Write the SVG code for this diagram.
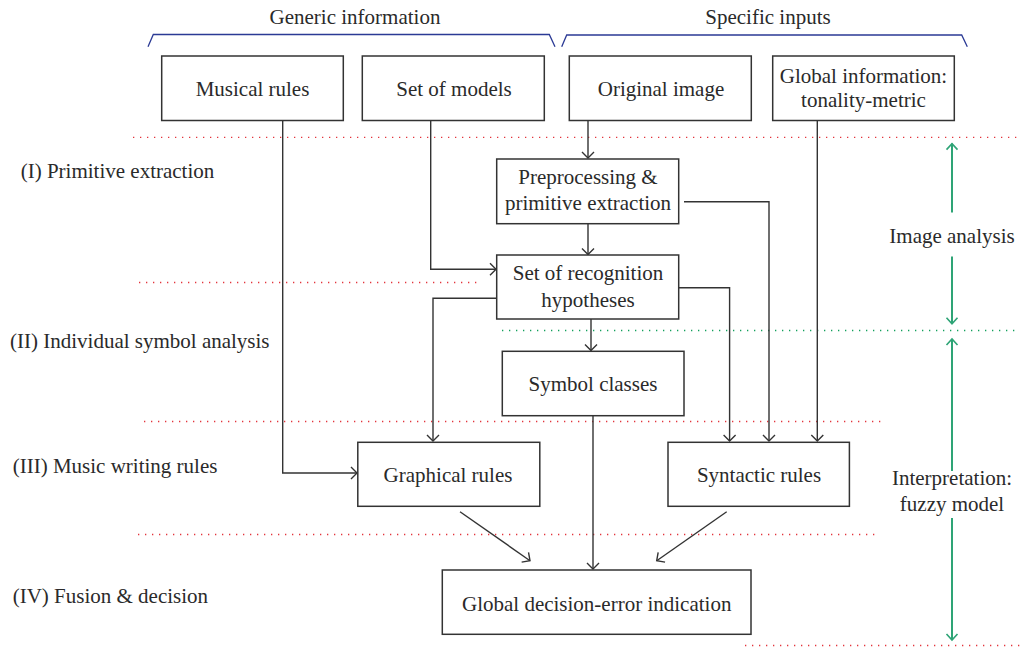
<svg xmlns="http://www.w3.org/2000/svg" width="1020" height="647" viewBox="0 0 1020 647">
<style>
text{font-family:"Liberation Serif","Times New Roman",serif;font-size:21px;fill:#2a2a2a}
.c{text-anchor:middle}
.box{fill:#fff;stroke:#333;stroke-width:1.5}
.ln{fill:none;stroke:#333;stroke-width:1.4}
.ar{marker-end:url(#arr)}
.red{fill:none;stroke:#e3343c;stroke-width:1.3;stroke-dasharray:1.3 5.7}
.grn{fill:none;stroke:#12a05c;stroke-width:1.3;stroke-dasharray:1.3 5.7}
.gar{fill:none;stroke:#2ea476;stroke-width:2}
.brace{fill:none;stroke:#2b3a95;stroke-width:1.3}
</style>
<defs>
<marker id="arr" markerUnits="userSpaceOnUse" markerWidth="14" markerHeight="14" viewBox="0 0 14 14" refX="7" refY="7" orient="auto"><path d="M1,1 L7,7 L1,13" fill="none" stroke="#333" stroke-width="1.4"/></marker>
<marker id="garr" markerUnits="userSpaceOnUse" markerWidth="14" markerHeight="14" viewBox="0 0 14 14" refX="7" refY="7" orient="auto-start-reverse"><path d="M1,1.5 L7,7 L1,12.5" fill="none" stroke="#2ea476" stroke-width="1.6"/></marker>
</defs>

<g id="guides">
<path class="brace" d="M148,46.7 L153.3,34.5 L549.3,34.5 L555,46.7"/>
<path class="brace" d="M561.7,46.7 L566.7,35 L961.7,35 L967.3,46.7"/>
<text class="c" x="355" y="24">Generic information</text>
<text class="c" x="768" y="24">Specific inputs</text>
<line class="red" x1="133" y1="137.3" x2="1020" y2="137.3"/>
<line class="red" x1="139" y1="282.5" x2="482" y2="282.5"/>
<line class="grn" x1="502" y1="330.5" x2="1020" y2="330.5"/>
<line class="red" x1="144" y1="421.5" x2="881" y2="421.5"/>
<line class="red" x1="138" y1="534.5" x2="876" y2="534.5"/>
<line class="red" x1="745" y1="645.5" x2="1020" y2="645.5"/>
<text x="20.7" y="178">(I) Primitive extraction</text>
<text x="10" y="348.3">(II) Individual symbol analysis</text>
<text x="12.7" y="472.7">(III) Music writing rules</text>
<text x="12.7" y="603.3">(IV) Fusion &amp; decision</text>
<line class="gar" x1="952" y1="212.6" x2="952" y2="143.6" marker-end="url(#garr)"/>
<line class="gar" x1="952" y1="256.4" x2="952" y2="323.7" marker-end="url(#garr)"/>
<text class="c" x="952" y="243">Image analysis</text>
<line class="gar" x1="952" y1="471" x2="952" y2="339" marker-end="url(#garr)"/>
<line class="gar" x1="952" y1="518" x2="952" y2="640" marker-end="url(#garr)"/>
<text class="c" x="952" y="485">Interpretation:</text>
<text class="c" x="952" y="511">fuzzy model</text>
</g>

<g id="connectors">
<path class="ln ar" d="M282.7,120.5 L282.7,473 L357,473"/>
<path class="ln ar" d="M430.7,120.5 L430.7,269.3 L496,269.3"/>
<path class="ln ar" d="M588,120.5 L588,158"/>
<path class="ln ar" d="M817.3,120.5 L817.3,441"/>
<path class="ln ar" d="M588,223.7 L588,254.5"/>
<path class="ln ar" d="M684,201.7 L769,201.7 L769,441"/>
<path class="ln ar" d="M678.7,287.7 L729.6,287.7 L729.6,441"/>
<path class="ln ar" d="M496.7,298.3 L433,298.3 L433,441"/>
<path class="ln ar" d="M591,319 L591,350.5"/>
<path class="ln ar" d="M593,415.7 L593,569"/>
<path class="ln ar" d="M460,511.7 L530,560.7"/>
<path class="ln ar" d="M726.7,511.7 L656.7,560.7"/>
</g>

<g id="musical-rules">
<rect class="box" x="161.7" y="56" width="181.6" height="64.5"/>
<text class="c" x="252.5" y="96">Musical rules</text>
</g>
<g id="set-of-models">
<rect class="box" x="362.3" y="56" width="182" height="64.5"/>
<text class="c" x="454" y="96">Set of models</text>
</g>
<g id="original-image">
<rect class="box" x="569.3" y="56" width="182" height="64.5"/>
<text class="c" x="661" y="96">Original image</text>
</g>
<g id="global-information">
<rect class="box" x="772.7" y="56" width="181.6" height="64.5"/>
<text class="c" x="863.5" y="83">Global information:</text>
<text class="c" x="863.5" y="107">tonality-metric</text>
</g>
<g id="preprocessing">
<rect class="box" x="496.7" y="159" width="182" height="64.7"/>
<text class="c" x="588" y="183.5">Preprocessing &amp;</text>
<text class="c" x="588" y="210">primitive extraction</text>
</g>
<g id="recognition-hypotheses">
<rect class="box" x="496.7" y="255" width="182" height="64"/>
<text class="c" x="588" y="280">Set of recognition</text>
<text class="c" x="588" y="306.5">hypotheses</text>
</g>
<g id="symbol-classes">
<rect class="box" x="502.3" y="351.3" width="181.7" height="64.4"/>
<text class="c" x="593" y="390.5">Symbol classes</text>
</g>
<g id="graphical-rules">
<rect class="box" x="357.8" y="442.3" width="182" height="64"/>
<text class="c" x="448" y="481.5">Graphical rules</text>
</g>
<g id="syntactic-rules">
<rect class="box" x="668" y="442.3" width="181.4" height="64"/>
<text class="c" x="759" y="481.5">Syntactic rules</text>
</g>
<g id="global-decision">
<rect class="box" x="442.3" y="570" width="308.7" height="64.3"/>
<text class="c" x="596.7" y="610.5">Global decision-error indication</text>
</g>
</svg>
